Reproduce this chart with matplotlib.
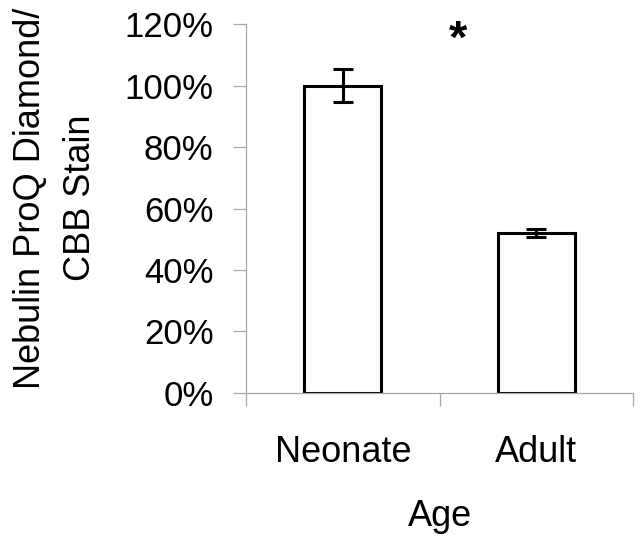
import numpy as np
import matplotlib
matplotlib.use("Agg")
import matplotlib.pyplot as plt
from matplotlib.ticker import FixedLocator

plt.rcParams['font.family'] = ['Liberation Sans', 'DejaVu Sans']

categories = ["Neonate", "Adult"]
values = [100.0, 52.0]          # percent
errors = [5.5, 1.4]
yticks = [0, 20, 40, 60, 80, 100, 120]
star_label = "*"

AX_GRAY = "#a8a8a8"

fig = plt.figure(figsize=(6.42, 5.41), dpi=100)
ax = fig.add_axes([0.3832, 0.2736, 0.6028, 0.682])

x = np.arange(len(categories))
ax.bar(x, values, width=0.4, color="white", edgecolor="black", linewidth=2.2, zorder=2)
ax.errorbar(x, values, yerr=errors, fmt="none", ecolor="black", elinewidth=2.2,
            capsize=7.5, capthick=2.2, zorder=3)

ax.set_xlim(-0.5, 1.5)
ax.set_ylim(0, 120)

# y axis
ax.set_yticks(yticks)
ax.set_yticklabels([f"{v}%" for v in yticks], fontsize=25)
ax.tick_params(axis="y", length=9.4, width=0.9, color=AX_GRAY, pad=14)

# x axis: category labels centred, tick marks between categories
ax.set_xticks(x)
ax.set_xticklabels(categories, fontsize=26)
ax.tick_params(axis="x", which="major", length=0, pad=30)
ax.xaxis.set_minor_locator(FixedLocator([-0.5, 0.5, 1.5]))
ax.tick_params(axis="x", which="minor", length=9.4, width=0.9, color=AX_GRAY)
ax.set_xlabel("Age", fontsize=26, labelpad=21)

for side in ["top", "right"]:
    ax.spines[side].set_visible(False)
for side in ["left", "bottom"]:
    ax.spines[side].set_color(AX_GRAY)
    ax.spines[side].set_linewidth(0.9)

ax.text(0.596, 114.5, star_label, ha="center", va="center", fontsize=34,
        fontweight="bold", clip_on=False)

fig.text(0.0864, 0.634, "Nebulin ProQ Diamond/\nCBB Stain", rotation=90,
         ha="center", va="center", multialignment="center", fontsize=26,
         linespacing=1.55)

fig.savefig("out.png", dpi=100)
